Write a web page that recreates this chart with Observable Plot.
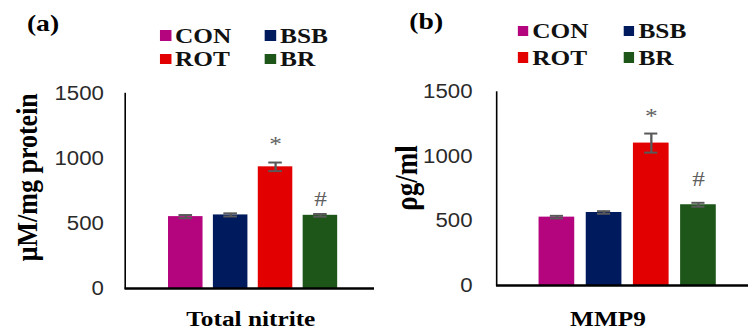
<!DOCTYPE html>
<html><head><meta charset="utf-8">
<script src="https://cdn.jsdelivr.net/npm/d3@7"></script>
<script src="https://cdn.jsdelivr.net/npm/@observablehq/plot@0.6"></script>
<style>
html,body{margin:0;padding:0;background:#fff;overflow:hidden;width:748px;height:329px}
#stage{position:absolute;left:0;top:0;width:650px;height:329px;transform:scaleX(1.15077);transform-origin:0 0}
.panel{position:absolute;top:0;width:325px;height:329px}
.panel svg{position:absolute;left:0;top:0}
.plab{position:absolute;font-family:"Liberation Serif",serif;font-weight:bold;font-size:24px;color:#000;white-space:nowrap;line-height:28px;height:28px;transform:translateX(-50%)}
.leg{position:absolute;height:24px;line-height:24px;display:flex;align-items:center;font-family:"Liberation Serif",serif;font-weight:bold;font-size:22px;color:#111;white-space:nowrap}
.sw{display:inline-block;width:9.5px;height:10.7px;margin-right:3.5px}
</style>
</head><body>
<div id="stage">
  <div class="panel" id="pa" style="left:0"></div>
  <div class="panel" id="pb" style="left:325px"></div>
</div>
<script>
const categories = ["CON", "BSB", "ROT", "BR"];
const colors = ["#B4057F", "#001A5E", "#E20000", "#1E561A"];
const significance = ["", "", "*", "#"];
const yTicks = [0, 500, 1000, 1500];

const nitriteMean = [553, 566, 936, 563];
const nitriteErr = [12, 12, 33, 10];
const mmp9Mean = [530, 566, 1104, 626];
const mmp9Err = [10, 10, 74, 15];

const panelLabels = ["(a)", "(b)"];
const yTitles = ["μM/mg protein", "ρg/ml"];
const xTitles = ["Total nitrite", "MMP9"];

const serif = '"Liberation Serif", "Times New Roman", serif';
const errColor = "#595959";

function makePanel(cfg) {
  const rows = categories.map((c, i) => ({
    cat: c, mean: cfg.means[i], lo: cfg.means[i] - cfg.errs[i], hi: cfg.means[i] + cfg.errs[i], sig: significance[i]
  }));
  const frameMid = (cfg.mTop + (329 - cfg.mBottom)) / 2;
  const chart = Plot.plot({
    width: 325, height: 329,
    marginLeft: cfg.mLeft, marginRight: 0, marginTop: cfg.mTop, marginBottom: cfg.mBottom,
    style: {fontFamily: '"Liberation Sans", Arial, sans-serif', fontSize: "19.3px", background: "transparent", overflow: "visible"},
    x: {domain: categories, range: cfg.range, paddingInner: 0.234, paddingOuter: 0, axis: null},
    y: {domain: [0, 1500], axis: null},
    color: {domain: categories, range: colors},
    marks: [
      Plot.barY(rows, {x: "cat", y: "mean", fill: "cat"}),
      Plot.ruleX(rows, {x: "cat", y1: "lo", y2: "hi", stroke: errColor, strokeWidth: 2}),
      Plot.tickY(rows, {x: "cat", y: "lo", stroke: errColor, strokeWidth: 2, inset: cfg.capInset}),
      Plot.tickY(rows, {x: "cat", y: "hi", stroke: errColor, strokeWidth: 2, inset: cfg.capInset}),
      Plot.text(rows.filter(d => d.sig === "*"), {x: "cat", y: "hi", text: "sig", dy: cfg.starDy, lineAnchor: "bottom", fontFamily: serif, fontSize: 22, fill: "#606060"}),
      Plot.text(rows.filter(d => d.sig === "#"), {x: "cat", y: "hi", text: "sig", dy: cfg.hashDy, lineAnchor: "bottom", fontFamily: serif, fontSize: 22, fill: "#606060"}),
      Plot.axisY({ticks: yTicks, tickFormat: d => String(d), tickSize: 0, tickPadding: cfg.tickPad, fill: "#2a2a2a", label: null}),
      Plot.frame({anchor: "left", stroke: "#000", strokeWidth: 1.4}),
      Plot.ruleY([0], {stroke: "#000", strokeWidth: 2.5}),
      Plot.text([cfg.yTitle], {text: d => d, frameAnchor: "left", textAnchor: "middle", lineAnchor: "middle", rotate: -90, dx: cfg.yTitleX - cfg.mLeft, dy: cfg.yTitleY - frameMid, fontFamily: serif, fontWeight: "bold", fontSize: cfg.yTitleSize, fill: "#000"}),
      Plot.text([cfg.xTitle], {text: d => d, frameAnchor: "bottom", textAnchor: "middle", lineAnchor: "middle", dx: cfg.xTitleDx, dy: cfg.xTitleDy, fontFamily: serif, fontWeight: "bold", fontSize: 22, fill: "#000"})
    ]
  });
  const host = document.getElementById(cfg.id);
  host.appendChild(chart);

  const lab = document.createElement("div");
  lab.className = "plab";
  lab.textContent = cfg.label;
  lab.style.left = cfg.labX + "px";
  lab.style.top = (cfg.labY - 14) + "px";
  host.appendChild(lab);

  categories.forEach((c, i) => {
    const item = document.createElement("div");
    item.className = "leg";
    item.style.left = cfg.legCols[i % 2] + "px";
    item.style.top = (cfg.legRows[Math.floor(i / 2)] - 12) + "px";
    const sw = document.createElement("span");
    sw.className = "sw";
    sw.style.background = colors[i];
    item.appendChild(sw);
    item.appendChild(document.createTextNode(c));
    host.appendChild(item);
  });
}

makePanel({
  id: "pa", means: nitriteMean, errs: nitriteErr, label: panelLabels[0],
  yTitle: yTitles[0], xTitle: xTitles[0],
  mLeft: 108.3, mTop: 93, mBottom: 41, range: [144.1, 293.9], capInset: 9.1, tickPad: 18.5,
  yTitleX: 23.2, yTitleY: 176.7, yTitleSize: 26, xTitleDx: 0.8, xTitleDy: 30,
  starDy: -12, hashDy: -8,
  labX: 37.4, labY: 23, legCols: [139.1, 230.4], legRows: [35.5, 59]
});
makePanel({
  id: "pb", means: mmp9Mean, errs: mmp9Err, label: panelLabels[1],
  yTitle: yTitles[1], xTitle: xTitles[1],
  mLeft: 106.1, mTop: 91.5, mBottom: 44, range: [141.5, 299.4], capInset: 9.8, tickPad: 21,
  yTitleX: 28.4, yTitleY: 177.5, yTitleSize: 27, xTitleDx: -12.7, xTitleDy: 33,
  starDy: -11, hashDy: -17,
  labX: 45.4, labY: 21, legCols: [124.6, 216.8], legRows: [31, 57.5]
});
</script>
</body></html>
